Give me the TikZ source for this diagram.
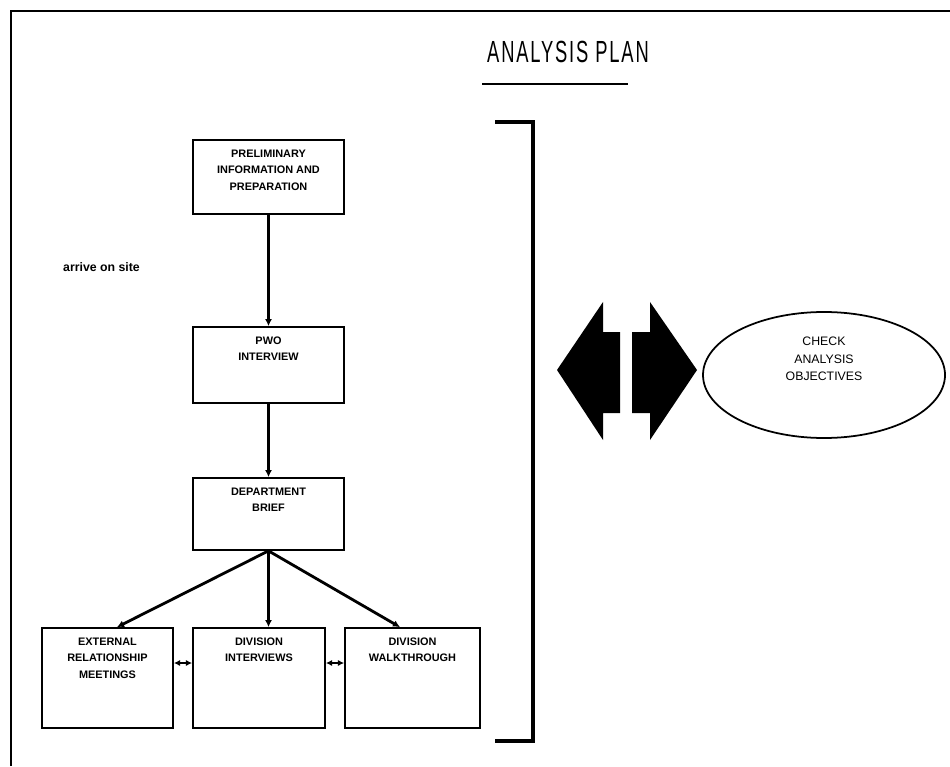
\documentclass[tikz,border=0pt]{standalone}
\usepackage{fontspec}
\setmainfont{Liberation Sans}
\newfontfamily\titlefont[FakeStretch=0.6,LetterSpace=6]{Liberation Sans}
\usetikzlibrary{arrows.meta,calc,shapes.geometric,positioning}
\newcommand{\boxtext}[3]{\parbox[c][#2][t]{#1}{\centering\vspace*{5.5pt}#3}}

\begin{document}
\begin{tikzpicture}[
  stepbox/.style={draw,line width=1pt,inner sep=0pt,font=\fontsize{6.2}{9.5}\selectfont\bfseries},
  flow/.style={line width=1.6pt,-{Latex[length=4pt,width=4pt]}},
  link/.style={line width=1.6pt,{Latex[length=3.5pt,width=3.5pt]}-{Latex[length=3.5pt,width=3.5pt]}}]
\useasboundingbox (0,0) rectangle (19,15.32);
\draw[line width=1.7pt] (0.22,0) -- (0.22,15.10) -- (19,15.10);
\node (title) at (11.36,14.28) {\titlefont\fontsize{17.4}{20}\selectfont ANALYSIS PLAN};
\draw[line width=1.6pt] (9.64,13.64) -- (12.56,13.64);
% flow chart
\node[stepbox] (prelim) at (5.37,11.78) {\boxtext{3.02cm}{1.48cm}{PRELIMINARY\\INFORMATION AND\\PREPARATION}};
\node[stepbox] (pwo) at (5.37,8.02) {\boxtext{3.02cm}{1.52cm}{PWO\\INTERVIEW}};
\node[stepbox] (dept) at (5.37,5.04) {\boxtext{3.02cm}{1.44cm}{DEPARTMENT\\BRIEF}};
\node[stepbox] (extmeet) at (2.15,1.76) {\boxtext{2.62cm}{2.0cm}{EXTERNAL\\RELATIONSHIP\\MEETINGS}};
\node[stepbox] (divint) at (5.18,1.76) {\boxtext{2.64cm}{2.0cm}{DIVISION\\INTERVIEWS}};
\node[stepbox] (divwalk) at (8.25,1.76) {\boxtext{2.70cm}{2.0cm}{DIVISION\\WALKTHROUGH}};
\node[anchor=west,font=\fontsize{7}{8}\selectfont\bfseries] (arrive) at (1.14,9.98) {arrive on site};
\path[flow]
(prelim) edge (pwo)
(pwo) edge (dept)
(dept.south) edge ($(extmeet.north)+(0.19,0)$)
(dept.south) edge (dept.south |- divint.north)
(dept.south) edge ($(divwalk.north)+(-0.25,0)$);
\path[link]
([yshift=0.3cm]extmeet.east) edge ([yshift=0.3cm]divint.west)
([yshift=0.3cm]divint.east) edge ([yshift=0.3cm]divwalk.west);
% bracket and big arrows
\draw[line width=2.3pt] (9.90,12.88) -- (10.66,12.88) -- (10.66,0.50) -- (9.90,0.50);
\fill (11.14,7.92) -- (12.06,9.28) -- (12.06,8.68) -- (12.40,8.68) -- (12.40,7.06) -- (12.06,7.06) -- (12.06,6.52) -- cycle;
\fill (13.94,7.92) -- (13.00,9.28) -- (13.00,8.68) -- (12.64,8.68) -- (12.64,7.06) -- (13.00,7.06) -- (13.00,6.52) -- cycle;
\node[ellipse,draw,line width=1pt,minimum width=4.84cm,minimum height=2.52cm,inner sep=0pt,font=\fontsize{7}{10}\selectfont] (check) at (16.48,7.82) {\parbox[c][1.52cm][t]{2cm}{\centering CHECK\\ANALYSIS\\OBJECTIVES}};
\end{tikzpicture}
\end{document}
